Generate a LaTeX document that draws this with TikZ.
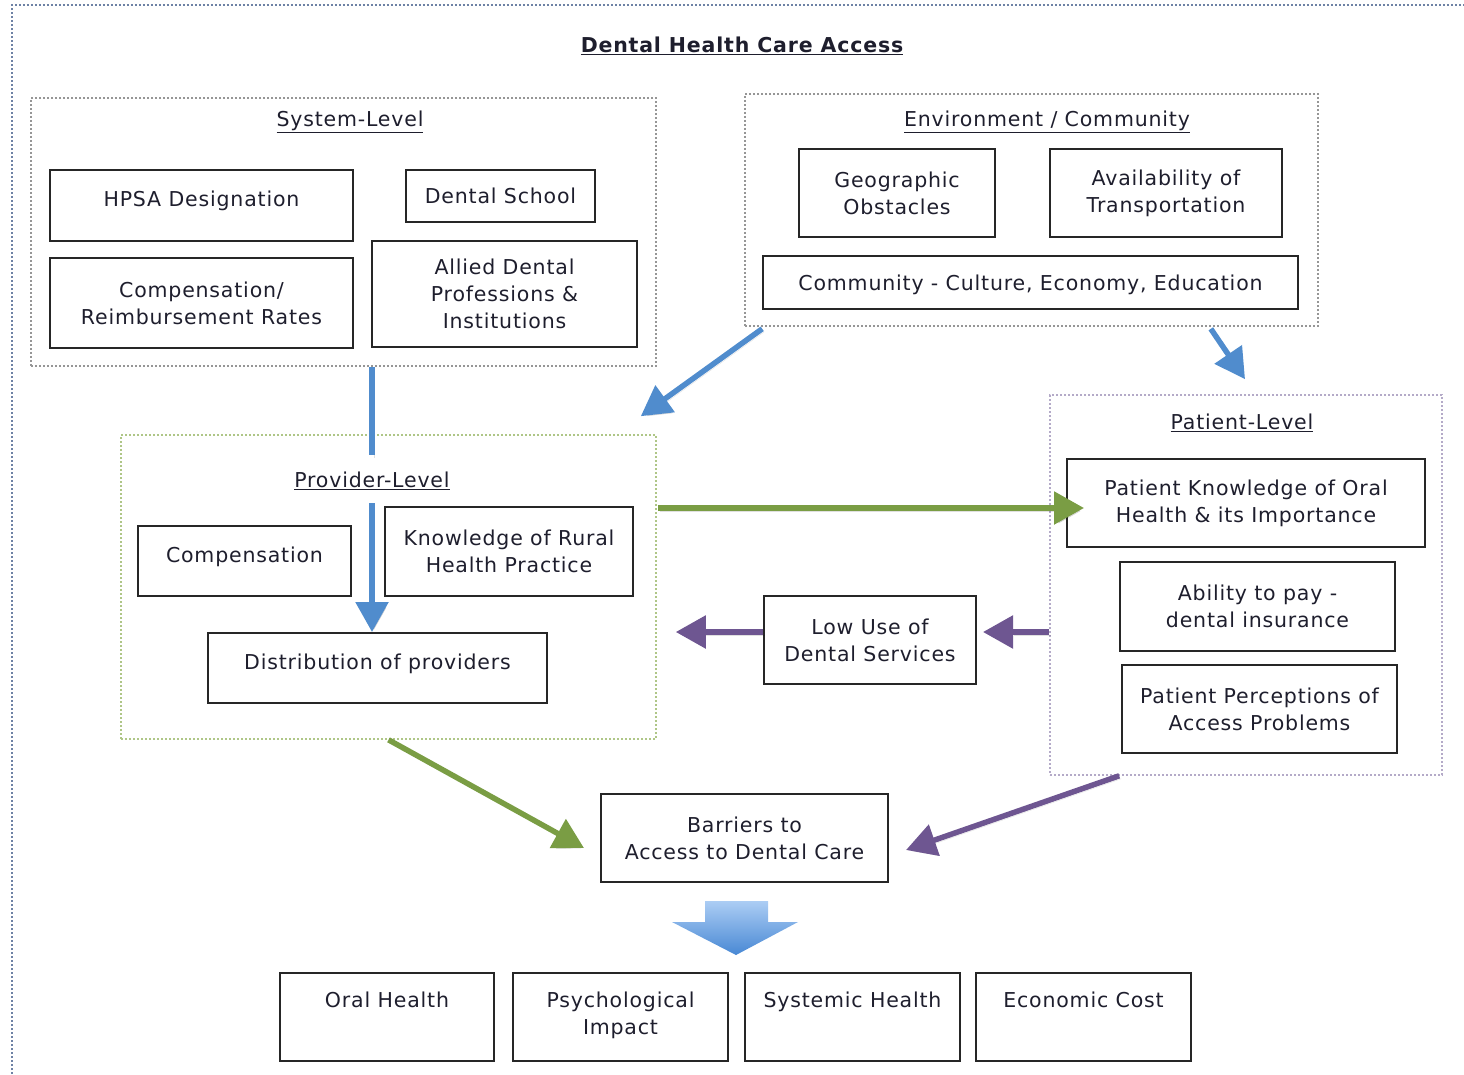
\documentclass[tikz,border=0pt]{standalone}
\usepackage{fontspec}
\setmainfont{DejaVu Sans}[LetterSpace=4]
\usetikzlibrary{arrows.meta,calc}
\definecolor{arrblue}{RGB}{80,140,205}
\definecolor{arrgreen}{RGB}{122,157,68}
\definecolor{arrpurple}{RGB}{110,86,145}
\definecolor{outerdot}{RGB}{110,130,165}
\definecolor{graydot}{RGB}{150,150,150}
\definecolor{greendot}{RGB}{175,198,135}
\definecolor{purpdot}{RGB}{180,170,200}
\definecolor{shadeTop}{RGB}{172,205,244}
\definecolor{shadeBot}{RGB}{72,136,212}
\definecolor{txt}{RGB}{30,30,45}
\newcommand{\fs}{\fontsize{20.5}{27}\selectfont}
\tikzset{
  box/.style={draw=black!85, line width=2pt, align=center, inner sep=0pt, font=\fs, text=txt},
  raised/.style={text depth=12.8pt},
  grp/.style={line width=1.6pt, dash pattern=on 1.6pt off 2.4pt, inner sep=0pt},
  ttl/.style={font=\fs, inner sep=1pt, text=txt},
  lbl/.style={font=\fs, align=center, inner sep=0pt, text=txt},
  conn/.style={line width=5.5pt, -{Triangle[length=30pt,width=32pt]},
     preaction={draw=black, opacity=0.12, transform canvas={shift={(2pt,-3pt)}}}},
  plain/.style={line width=5.5pt,
     preaction={draw=black, opacity=0.12, transform canvas={shift={(2pt,-3pt)}}}},
}
\begin{document}
\begin{tikzpicture}[x=1pt,y=-1pt]
\useasboundingbox (0,0) rectangle (1464,1074);
% outer frame
\draw[outerdot, line width=1.6pt, dash pattern=on 1.6pt off 2.4pt] (12,1074) -- (12,5) -- (1464,5);
\node[ttl, font=\fs\bfseries] (title) at (742,46) {\underline{Dental Health Care Access}};

% containers
\node[grp, draw=graydot, minimum width=625, minimum height=268] (sys) at (343.5,232) {};
\node[grp, draw=graydot, minimum width=573, minimum height=232] (env) at (1031.5,210) {};
\node[grp, draw=greendot, minimum width=535, minimum height=304] (prov) at (388.5,587) {};
\node[grp, draw=purpdot, minimum width=392, minimum height=380] (pat) at (1246,585) {};

\node[ttl] (systtl) at (350,122) {\underline{System-Level}};
\node[ttl] (envttl) at (1047,122) {\underline{Environment / Community}};
\node[ttl] (provttl) at (372,481) {\underline{Provider-Level}};
\node[ttl] (patttl) at (1242,423) {\underline{Patient-Level}};

% system level
\node[box, raised, minimum width=303, minimum height=71] (hpsa) at (201.5,205.5) {HPSA Designation};
\node[box, minimum width=189, minimum height=52] (school) at (500.5,196) {Dental School};
\node[box, minimum width=303, minimum height=90] (comprr) at (201.5,303) {Compensation/\\Reimbursement Rates};
\node[box, minimum width=265, minimum height=106] (allied) at (504.5,294) {Allied Dental\\Professions \&\\Institutions};

% environment
\node[box, minimum width=196, minimum height=88] (geo) at (897,193) {Geographic\\Obstacles};
\node[box, minimum width=232, minimum height=88] (trans) at (1166,193) {Availability of\\Transportation};
\node[box, text height=19.5pt, minimum width=535, minimum height=53] (comm) at (1030.5,282.5) {Community - Culture, Economy, Education};

% provider
\node[box, raised, minimum width=213, minimum height=70] (comp) at (244.5,561) {Compensation};
\node[box, minimum width=248, minimum height=89] (rural) at (509,551.5) {Knowledge of Rural\\Health Practice};
\node[box, raised, minimum width=339, minimum height=70] (distr) at (377.5,668) {Distribution of providers};

% patient
\node[box, minimum width=358, minimum height=88] (pknow) at (1246,503) {Patient Knowledge of Oral\\Health \& its Importance};
\node[box, minimum width=275, minimum height=89] (pay) at (1257.5,606.5) {Ability to pay -\\dental insurance};
\node[box, minimum width=275, minimum height=88] (perc) at (1259.5,709) {Patient Perceptions of\\Access Problems};

% middle
\node[box, minimum width=212, minimum height=88] (low) at (870,640) {Low Use of\\Dental Services};
\node[box, minimum width=287, minimum height=88] (bar) at (744.5,838) {Barriers to\\Access to Dental Care};

% outcomes
\node[box, minimum width=214, minimum height=88, label={[lbl,anchor=north,yshift=-20pt]north:Oral Health}] (oral) at (387,1017) {};
\node[box, minimum width=215, minimum height=88, label={[lbl,anchor=north,yshift=-20pt]north:Psychological\\Impact}] (psych) at (620.5,1017) {};
\node[box, minimum width=215, minimum height=88, label={[lbl,anchor=north,yshift=-20pt]north:Systemic Health}] (syst) at (852.5,1017) {};
\node[box, minimum width=215, minimum height=88, label={[lbl,anchor=north,yshift=-20pt]north:Economic Cost}] (econ) at (1083.5,1017) {};

% big block arrow
\shade[top color=shadeTop, bottom color=shadeBot]
  (705,901) -- (768,901) -- (768,922) -- (798,922) -- (736,955) -- (672,922) -- (705,922) -- cycle;

% connectors
\coordinate (bstart) at ($(env.south west)+(18,2)$);
\coordinate (bend) at ($(prov.north east)+(-16,-18)$);
\coordinate (b2start) at ($(env.south east)+(-108,2)$);
\coordinate (b2end) at ($(pat.north)+(-1,-15)$);
\coordinate (pleft) at ($(prov.east |- low.west)+(19,-8)$);

\draw[plain, arrblue] (sys.south -| provttl) -- ($(provttl.north)+(0,-16)$);
\draw[conn, arrblue] ($(provttl.south)+(0,12)$) -- (distr.north -| provttl);
\draw[conn, arrblue] (bstart) -- (bend);
\draw[conn, arrblue] (b2start) -- (b2end);
\draw[conn, arrgreen, shorten >=-18pt] ($(prov.east |- pknow.west)+(1,5)$) -- ($(pknow.west)+(0,5)$);
\draw[conn, arrgreen] (prov.south) -- ($(bar.west)+(-16,10)$);
\draw[conn, arrpurple] ($(low.west)+(0,-8)$) -- (pleft);
\draw[conn, arrpurple, shorten >=6pt] ($(pat.west)+(0,47)$) -- ($(low.east)+(0,-8)$);
\draw[conn, arrpurple] ($(pat.south west)+(70,0)$) -- ($(bar.east)+(17,12)$);
\end{tikzpicture}
\end{document}
